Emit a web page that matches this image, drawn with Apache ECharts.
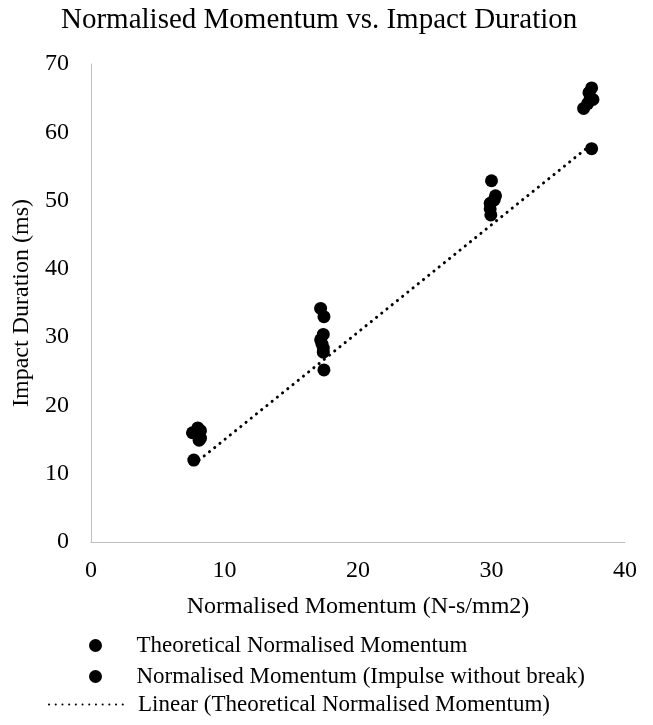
<!DOCTYPE html>
<html>
<head>
<meta charset="utf-8">
<script src="https://cdn.jsdelivr.net/npm/echarts@6/dist/echarts.min.js"></script>
<style>
  html, body { margin: 0; padding: 0; background: #fff; }
  #chart { width: 653px; height: 725px; }
</style>
</head>
<body>
<div id="chart"></div>
<script>
// Theoretical normalised momentum (N-s/mm2) and impact duration (ms)
const theoMomentum = [7.7, 17.45, 29.95, 37.5];
const theoDuration = [12.0, 25.2, 47.9, 57.6];

// Measured normalised momentum (impulse without break)
const measMomentum = [7.6, 8.0, 8.2, 8.1, 8.2, 8.1,
                      17.2, 17.45, 17.4, 17.2, 17.3, 17.4, 17.4,
                      30.0, 30.3, 30.2, 29.9, 29.9,
                      36.9, 37.2, 37.4, 37.3, 37.5, 37.6];
const measDuration = [16.0, 16.7, 16.3, 15.7, 15.2, 14.9,
                      34.2, 33.0, 30.4, 29.6, 29.0, 28.4, 27.8,
                      52.9, 50.7, 50.1, 49.6, 48.8,
                      63.5, 64.2, 65.0, 65.8, 66.5, 64.8];

// Axis ticks
const xTicks = [0, 10, 20, 30, 40];
const yTicks = [0, 10, 20, 30, 40, 50, 60, 70];

const seriesNames = [
  'Theoretical Normalised Momentum',
  'Normalised Momentum (Impulse without break)',
  'Linear (Theoretical Normalised Momentum)'
];

// Least-squares trendline over the theoretical points, spanning their x range
function linearFit(xs, ys) {
  const n = xs.length;
  const mx = xs.reduce((a, b) => a + b, 0) / n;
  const my = ys.reduce((a, b) => a + b, 0) / n;
  let sxy = 0, sxx = 0;
  for (let i = 0; i < n; i++) {
    sxy += (xs[i] - mx) * (ys[i] - my);
    sxx += (xs[i] - mx) * (xs[i] - mx);
  }
  const slope = sxy / sxx;
  return { slope, intercept: my - slope * mx };
}
const fit = linearFit(theoMomentum, theoDuration);
const xMin = Math.min(...theoMomentum), xMax = Math.max(...theoMomentum);
const trend = [[xMin, fit.intercept + fit.slope * xMin],
               [xMax, fit.intercept + fit.slope * xMax]];

const zip = (a, b) => a.map((v, i) => [v, b[i]]);
const serif = '"Liberation Serif", "Times New Roman", serif';
const axisLine = { show: true, lineStyle: { color: '#bfbfbf', width: 1 } };
const legendText = { fontFamily: serif, fontSize: 23, color: '#000' };

const chart = echarts.init(document.getElementById('chart'), null, { renderer: 'canvas' });
chart.setOption({
  animation: false,
  backgroundColor: '#ffffff',
  textStyle: { fontFamily: serif, color: '#000' },
  title: {
    text: 'Normalised Momentum vs. Impact Duration',
    left: 56,
    top: 1,
    textStyle: { fontFamily: serif, fontSize: 29, fontWeight: 'normal', color: '#000' }
  },
  grid: { left: 91, right: 28, top: 64, bottom: 183 },
  xAxis: {
    type: 'value',
    min: xTicks[0], max: xTicks[xTicks.length - 1], interval: xTicks[1] - xTicks[0],
    name: 'Normalised Momentum (N-s/mm2)',
    nameLocation: 'middle', nameGap: 53,
    nameTextStyle: { fontFamily: serif, fontSize: 24, color: '#000' },
    axisLine, axisTick: { show: false }, splitLine: { show: false },
    axisLabel: { fontFamily: serif, fontSize: 24, color: '#000', margin: 17 }
  },
  yAxis: {
    type: 'value',
    min: yTicks[0], max: yTicks[yTicks.length - 1], interval: yTicks[1] - yTicks[0],
    name: 'Impact Duration (ms)',
    nameLocation: 'middle', nameGap: 52, nameRotate: 90,
    nameTextStyle: { fontFamily: serif, fontSize: 24, color: '#000' },
    axisLine, axisTick: { show: false }, splitLine: { show: false },
    axisLabel: { fontFamily: serif, fontSize: 24, color: '#000', margin: 22 }
  },
  legend: [
    {
      orient: 'vertical', align: 'left', padding: 0,
      left: 89, top: 634,
      itemWidth: 72, itemHeight: 13, itemGap: 8,
      textStyle: legendText,
      data: [
        { name: seriesNames[0], icon: 'circle' },
        { name: seriesNames[1], icon: 'circle' }
      ]
    },
    {
      orient: 'vertical', align: 'left', padding: 0,
      left: 48, top: 693,
      itemWidth: 77, itemHeight: 13,
      textStyle: Object.assign({ padding: [0, 0, 0, 7] }, legendText),
      data: [{ name: seriesNames[2], itemStyle: { opacity: 0 } }]
    }
  ],
  series: [
    {
      name: seriesNames[2], type: 'line', data: trend,
      symbol: 'none',
      itemStyle: { color: 'rgba(0,0,0,0)' },
      lineStyle: { color: '#000', width: 3, type: [0.1, 6.6], cap: 'round' },
      z: 1
    },
    {
      name: seriesNames[0], type: 'scatter', data: zip(theoMomentum, theoDuration),
      symbol: 'circle', symbolSize: 13, itemStyle: { color: '#000', opacity: 1 }, z: 2
    },
    {
      name: seriesNames[1], type: 'scatter', data: zip(measMomentum, measDuration),
      symbol: 'circle', symbolSize: 13, itemStyle: { color: '#000', opacity: 1 }, z: 2
    }
  ]
});
</script>
</body>
</html>
